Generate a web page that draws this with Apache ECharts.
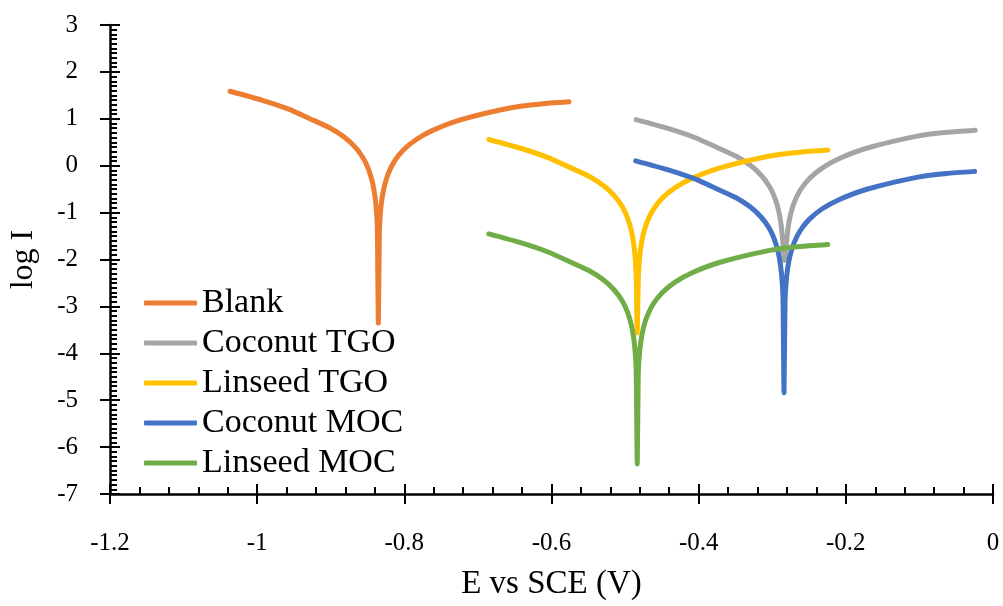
<!DOCTYPE html>
<html>
<head>
<meta charset="utf-8">
<script src="https://cdn.jsdelivr.net/npm/echarts@6/dist/echarts.min.js"></script>
<style>
  html, body { margin: 0; padding: 0; background: #fff; }
  #chart { width: 1003px; height: 606px; }
</style>
</head>
<body>
<div id="chart"></div>
<script>
// Polarisation curves: [E vs SCE (V), log I]
const blank = [
  [-1.0369, 1.587], [-0.9939, 1.400], [-0.9573, 1.206], [-0.9261, 0.987], [-0.9004, 0.799],
  [-0.8814, 0.606], [-0.8665, 0.390], [-0.8556, 0.155], [-0.8489, -0.068], [-0.8434, -0.350],
  [-0.8400, -0.646], [-0.8380, -0.953], [-0.8367, -1.335], [-0.8353, -3.356],
  [-0.8339, -1.407], [-0.8326, -1.032], [-0.8306, -0.731], [-0.8272, -0.439], [-0.8217, -0.163],
  [-0.8136, 0.091], [-0.8014, 0.333], [-0.7838, 0.559], [-0.7607, 0.758], [-0.7228, 0.981],
  [-0.6550, 1.235], [-0.6143, 1.316], [-0.5763, 1.362]
];
const coconutTGO = [
  [-0.4849, 0.983], [-0.4419, 0.796], [-0.4053, 0.602], [-0.3741, 0.383], [-0.3484, 0.195],
  [-0.3294, 0.002], [-0.3145, -0.214], [-0.3036, -0.449], [-0.2969, -0.672], [-0.2914, -0.954],
  [-0.2880, -1.250], [-0.2860, -1.557], [-0.2833, -2.021],
  [-0.2806, -1.636], [-0.2786, -1.335], [-0.2752, -1.043], [-0.2697, -0.767], [-0.2616, -0.513],
  [-0.2494, -0.271], [-0.2318, -0.045], [-0.2087, 0.154], [-0.1708, 0.377], [-0.1030, 0.631],
  [-0.0623, 0.712], [-0.0243, 0.758]
];
const linseedTGO = [
  [-0.6851, 0.559], [-0.6421, 0.372], [-0.6055, 0.178], [-0.5743, -0.041], [-0.5486, -0.229],
  [-0.5296, -0.422], [-0.5147, -0.638], [-0.5038, -0.873], [-0.4971, -1.096], [-0.4916, -1.378],
  [-0.4882, -1.674], [-0.4862, -1.981], [-0.4849, -2.363], [-0.4835, -3.568],
  [-0.4821, -2.435], [-0.4808, -2.060], [-0.4788, -1.759], [-0.4754, -1.467], [-0.4699, -1.191],
  [-0.4618, -0.937], [-0.4496, -0.695], [-0.4320, -0.469], [-0.4089, -0.270], [-0.3710, -0.047],
  [-0.3032, 0.207], [-0.2625, 0.288], [-0.2245, 0.334]
];
const coconutMOC = [
  [-0.4856, 0.104], [-0.4426, -0.083], [-0.4060, -0.277], [-0.3748, -0.496], [-0.3491, -0.684],
  [-0.3301, -0.877], [-0.3152, -1.093], [-0.3043, -1.328], [-0.2976, -1.551], [-0.2921, -1.833],
  [-0.2887, -2.129], [-0.2867, -2.436], [-0.2854, -2.818], [-0.2840, -4.839],
  [-0.2826, -2.890], [-0.2813, -2.515], [-0.2793, -2.214], [-0.2759, -1.922], [-0.2704, -1.646],
  [-0.2623, -1.392], [-0.2501, -1.150], [-0.2325, -0.924], [-0.2094, -0.725], [-0.1715, -0.502],
  [-0.1037, -0.248], [-0.0630, -0.167], [-0.0250, -0.121]
];
const linseedMOC = [
  [-0.6851, -1.453], [-0.6421, -1.640], [-0.6055, -1.834], [-0.5743, -2.053], [-0.5486, -2.241],
  [-0.5296, -2.434], [-0.5147, -2.650], [-0.5038, -2.885], [-0.4971, -3.108], [-0.4916, -3.390],
  [-0.4882, -3.686], [-0.4862, -3.993], [-0.4849, -4.375], [-0.4835, -6.358],
  [-0.4821, -4.447], [-0.4808, -4.072], [-0.4788, -3.771], [-0.4754, -3.479], [-0.4699, -3.203],
  [-0.4618, -2.949], [-0.4496, -2.707], [-0.4320, -2.481], [-0.4089, -2.282], [-0.3710, -2.059],
  [-0.3032, -1.805], [-0.2625, -1.724], [-0.2245, -1.678]
];

const seriesNames = ['Blank', 'Coconut TGO', 'Linseed TGO', 'Coconut MOC', 'Linseed MOC'];
const seriesData = [blank, coconutTGO, linseedTGO, coconutMOC, linseedMOC];
const seriesColors = ['#ED7D31', '#A5A5A5', '#FFC000', '#4472C4', '#70AD47'];

// Axis ranges and tick steps
const xRange = { min: -1.2, max: 0, major: 0.2, minor: 0.04 };
const yRange = { min: -7, max: 3, major: 1, minor: 0.1 };

const FONT = '"Liberation Serif", "Times New Roman", serif';
const tickStyle = { color: '#000', width: 2 };

const chart = echarts.init(document.getElementById('chart'), null, { renderer: 'canvas' });

// A bare axis that only contributes tick marks (no line, no labels)
function tickAxis(range, step, inside, len, position) {
  return {
    type: 'value', min: range.min, max: range.max, interval: step, position: position,
    axisLine: { show: false, onZero: false },
    splitLine: { show: false },
    axisLabel: { show: false },
    axisTick: { show: true, inside: inside, length: len, lineStyle: tickStyle }
  };
}

chart.setOption({
  animation: false,
  backgroundColor: '#fff',
  grid: { left: 108, right: 10, top: 25, bottom: 109, containLabel: false },
  legend: {
    orient: 'vertical',
    left: 139,
    top: 281,
    icon: 'roundRect',
    itemWidth: 53,
    itemHeight: 5,
    itemGap: 6,
    data: seriesNames,
    textStyle: { fontFamily: FONT, fontSize: 34, color: '#000', lineHeight: 34 }
  },
  xAxis: [
    {
      type: 'value', min: xRange.min, max: xRange.max, interval: xRange.major, position: 'bottom',
      name: 'E vs SCE (V)', nameLocation: 'middle', nameGap: 74,
      nameTextStyle: { fontFamily: FONT, fontSize: 33, color: '#000' },
      axisLine: { show: true, onZero: false, lineStyle: { color: '#000', width: 2.5 } },
      splitLine: { show: false },
      axisTick: { show: true, inside: true, length: 10, lineStyle: tickStyle },
      axisLabel: { fontFamily: FONT, fontSize: 25, color: '#000', margin: 37 }
    },
    tickAxis(xRange, xRange.major, false, 10, 'bottom'),
    tickAxis(xRange, xRange.minor, true, 7, 'bottom')
  ],
  yAxis: [
    {
      type: 'value', min: yRange.min, max: yRange.max, interval: yRange.major, position: 'left',
      name: 'log I', nameLocation: 'middle', nameGap: 70,
      nameTextStyle: { fontFamily: FONT, fontSize: 32, color: '#000' },
      axisLine: { show: true, onZero: false, lineStyle: { color: '#000', width: 2.5 } },
      splitLine: { show: false },
      axisTick: { show: true, inside: true, length: 10, lineStyle: tickStyle },
      axisLabel: { fontFamily: FONT, fontSize: 25, color: '#000', margin: 32 }
    },
    tickAxis(yRange, yRange.major, false, 10, 'left'),
    tickAxis(yRange, yRange.minor, true, 7, 'left')
  ],
  series: seriesNames.map((name, i) => ({
    name: name,
    type: 'line',
    data: seriesData[i],
    smooth: 0.2,
    symbol: 'none',
    color: seriesColors[i],
    lineStyle: { width: 5, color: seriesColors[i], cap: 'round', join: 'round' }
  }))
});
</script>
</body>
</html>
